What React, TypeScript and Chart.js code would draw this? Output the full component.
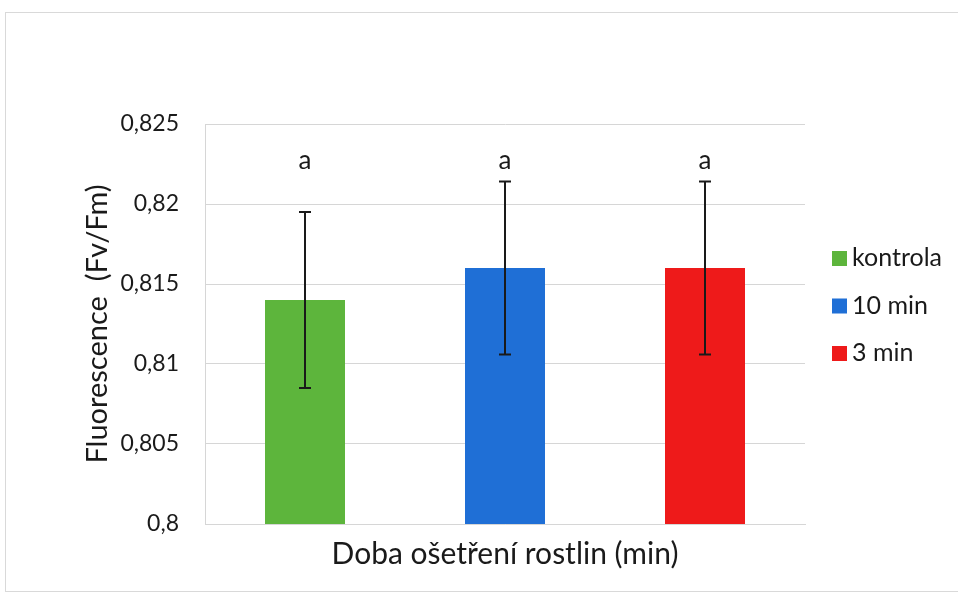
import React, { useEffect, useRef } from "react";
import { Chart, registerables } from "chart.js";

Chart.register(...registerables);

const categories = ["kontrola", "10 min", "3 min"];
const meanValues = [0.814, 0.816, 0.816];
const errorValues = [0.0055, 0.0054, 0.0054];
const significance = ["a", "a", "a"];
const letterLevel = 0.8227;
const barColors = ["#5DB53C", "#1F6FD6", "#EE1A1A"];
const yTicks = [0.8, 0.805, 0.81, 0.815, 0.82, 0.825];

const FONT = "Lato, 'Open Sans', sans-serif";
const TEXT = "#1a1a1a";
const GRID = "#d6d6d6";

const fmt = (v: number) => String(Number(v.toFixed(3))).replace(".", ",");

export default function App() {
  const ref = useRef<HTMLCanvasElement | null>(null);

  useEffect(() => {
    document.body.style.margin = "0";
    document.body.style.overflow = "hidden";
    const canvas = ref.current;
    if (!canvas) return;

    const errorBars = {
      id: "errorBars",
      afterDatasetsDraw(chart: any) {
        const ctx = chart.ctx;
        const meta = chart.getDatasetMeta(0);
        const y = chart.scales.y;
        ctx.save();
        ctx.strokeStyle = "#1a1a1a";
        ctx.lineWidth = 2;
        meta.data.forEach((bar: any, i: number) => {
          const x = Math.round(bar.x);
          const top = y.getPixelForValue(meanValues[i] + errorValues[i]);
          const bot = y.getPixelForValue(meanValues[i] - errorValues[i]);
          ctx.beginPath();
          ctx.moveTo(x, top);
          ctx.lineTo(x, bot);
          ctx.moveTo(x - 6, top);
          ctx.lineTo(x + 6, top);
          ctx.moveTo(x - 6, bot);
          ctx.lineTo(x + 6, bot);
          ctx.stroke();
        });
        ctx.fillStyle = TEXT;
        ctx.font = `26px ${FONT}`;
        ctx.textAlign = "center";
        ctx.textBaseline = "middle";
        meta.data.forEach((bar: any, i: number) => {
          ctx.fillText(significance[i], bar.x, y.getPixelForValue(letterLevel));
        });
        ctx.restore();
      },
    };

    const customLegend = {
      id: "customLegend",
      afterDraw(chart: any) {
        const ctx = chart.ctx;
        const labels = chart.data.labels as string[];
        const colors = chart.data.datasets[0].backgroundColor as string[];
        const x0 = 832;
        const y0 = 258;
        const step = 47.5;
        ctx.save();
        ctx.font = `25px ${FONT}`;
        ctx.textAlign = "left";
        ctx.textBaseline = "middle";
        labels.forEach((lab, i) => {
          const cy = y0 + i * step;
          ctx.fillStyle = colors[i];
          ctx.fillRect(x0, cy - 7, 15, 15);
          ctx.fillStyle = TEXT;
          ctx.fillText(lab, x0 + 20, cy);
        });
        ctx.restore();
      },
    };

    const chart = new Chart(canvas, {
      type: "bar",
      data: {
        labels: categories,
        datasets: [
          {
            label: "Fluorescence",
            data: meanValues,
            backgroundColor: barColors,
            borderWidth: 0,
            barPercentage: 0.4,
            categoryPercentage: 1,
          },
        ],
      },
      options: {
        animation: false,
        responsive: false,
        maintainAspectRatio: false,
        layout: { padding: { top: 124, right: 153, left: 0, bottom: 0 } },
        plugins: {
          legend: { display: false },
          tooltip: { enabled: false },
        },
        scales: {
          x: {
            grid: { display: false },
            border: { display: true, color: GRID, width: 1 },
            ticks: { display: false },
            title: {
              display: true,
              text: "Doba ošetření rostlin (min)",
              color: TEXT,
              font: { family: FONT, size: 30, lineHeight: 1 },
              padding: { top: 0, bottom: 27 },
            },
            afterFit(scale: any) {
              scale.height = 72;
            },
          },
          y: {
            min: 0.8,
            max: 0.825,
            afterBuildTicks(scale: any) {
              scale.ticks = yTicks.map((v) => ({ value: v }));
            },
            ticks: {
              color: TEXT,
              font: { family: FONT, size: 23 },
              padding: 26,
              callback: (v: any) => fmt(Number(v)),
            },
            grid: { color: GRID, drawTicks: false, lineWidth: 1 },
            border: { display: true, color: GRID, width: 1 },
            title: {
              display: true,
              text: "Fluorescence  (Fv/Fm)",
              color: TEXT,
              font: { family: FONT, size: 29, lineHeight: 1 },
              padding: { top: 83, bottom: 0 },
            },
            afterFit(scale: any) {
              scale.width = 205;
            },
          },
        },
      },
      plugins: [errorBars, customLegend],
    } as any);

    return () => chart.destroy();
  }, []);

  return (
    <div style={{ position: "relative", width: 958, height: 596, overflow: "hidden", background: "#fff" }}>
      <div
        style={{
          position: "absolute",
          left: 5,
          top: 12,
          width: 980,
          height: 580,
          border: "1px solid #d9d9d9",
          boxSizing: "border-box",
        }}
      />
      <canvas ref={ref} width={958} height={596} style={{ position: "absolute", left: 0, top: 0, display: "block" }} />
    </div>
  );
}
